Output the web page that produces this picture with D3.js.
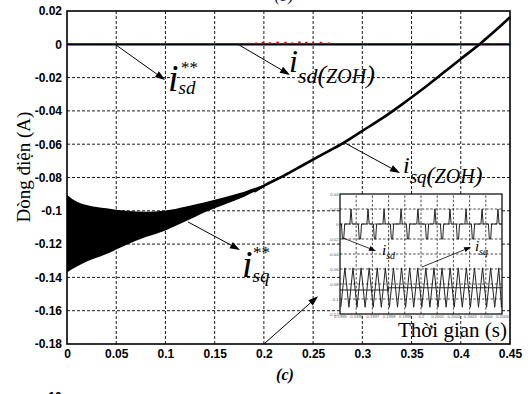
<!DOCTYPE html>
<html>
<head>
<meta charset="utf-8">
<script src="https://cdn.jsdelivr.net/npm/d3@7"></script>
<style>
  body { margin: 0; background: #fff; }
  svg { display: block; }
</style>
</head>
<body>
<script>
// ---- main plot data ----
const xTicks = [0, 0.05, 0.1, 0.15, 0.2, 0.25, 0.3, 0.35, 0.4, 0.45];
const yTicks = [0.02, 0, -0.02, -0.04, -0.06, -0.08, -0.1, -0.12, -0.14, -0.16, -0.18];

// i_sd** reference : zero over the whole run
const isdRefT = [0, 0.45];
const isdRefV = [0, 0];

// i_sq : fast ripple envelope for t < 0.2
const bandT     = [0, 0.01, 0.02, 0.04, 0.06, 0.08, 0.1, 0.12, 0.14, 0.16, 0.18, 0.2];
const bandUpper = [-0.0905, -0.0945, -0.0965, -0.0985, -0.1, -0.1005, -0.0998, -0.0975, -0.0948, -0.0918, -0.0885, -0.0843];
const bandLower = [-0.137, -0.1335, -0.1305, -0.126, -0.1205, -0.1158, -0.1118, -0.1065, -0.1008, -0.0962, -0.0915, -0.0858];

// i_sq(ZOH) after the ripple has died out
const curveT = [0.19, 0.2, 0.22, 0.24, 0.26, 0.28, 0.3, 0.32, 0.34, 0.36, 0.38, 0.4, 0.42, 0.44, 0.45];
const curveV = [-0.0885, -0.085, -0.079, -0.0725, -0.066, -0.0595, -0.052, -0.0445, -0.0362, -0.0275, -0.0182, -0.0088, 0.0005, 0.0108, 0.0162];

// i_sd(ZOH) red blips just above zero
const redMarkT = [0.185, 0.192, 0.199, 0.206, 0.214, 0.222, 0.229, 0.236, 0.243, 0.25, 0.258, 0.266];
const redMarkV = [0.0006, 0.0008, 0.0012, 0.0009, 0.0013, 0.0012, 0.0008, 0.0014, 0.0012, 0.0009, 0.0012, 0.0008];

// ---- zoomed inset data ----
const insetXTicks = [0.1995, 0.1996, 0.1997, 0.1998, 0.1999, 0.2, 0.2001, 0.2002, 0.2003, 0.2004, 0.2005];
const insetYTicks = [0.04, 0.02, 0, -0.02, -0.04, -0.06, -0.08, -0.1, -0.12];
const isdUpT   = [0.199568, 0.199673, 0.199772, 0.199877, 0.199981, 0.200086, 0.200179, 0.200278, 0.200377, 0.200475];
const isdDownT = [0.199519, 0.199623, 0.199716, 0.199821, 0.19992, 0.200037, 0.20013, 0.200228, 0.200321, 0.200426];
const isdUpV = 0.02, isdDownV = -0.02;
const isqPeakT   = [0.19953, 0.19958, 0.19963, 0.19968, 0.19973, 0.19978, 0.19983, 0.19988, 0.19993, 0.19998,
                    0.20003, 0.20008, 0.20013, 0.20018, 0.20023, 0.20028, 0.20033, 0.20038, 0.20043, 0.20048];
const isqTroughT = [0.199505, 0.199555, 0.199605, 0.199655, 0.199705, 0.199755, 0.199805, 0.199855, 0.199905, 0.199955,
                    0.200005, 0.200055, 0.200105, 0.200155, 0.200205, 0.200255, 0.200305, 0.200355, 0.200405, 0.200455, 0.200497];
const isqPeakV = -0.0585, isqTroughV = -0.111;
const isqRefT = [0.1995, 0.1998, 0.1998, 0.2005];
const isqRefV = [-0.088, -0.088, -0.085, -0.085];

// annotation arrows, in data units [t0, v0, t1, v1]
const mainArrows = [
  [0.0488, 0, 0.0996, -0.0214],
  [0.1737, 0, 0.2265, -0.0184],
  [0.2824, -0.0593, 0.3383, -0.0773],
  [0.1229, -0.1067, 0.1757, -0.1235],
  [0.2, -0.18, 0.255, -0.1513]
];
const insetArrows = [
  [0.199519, -0.0187, 0.199722, -0.036],
  [0.200006, -0.0573, 0.200309, -0.0307]
];

const W = 530, H = 394;
const svg = d3.select("body").append("svg").attr("width", W).attr("height", H);

const x = d3.scaleLinear().domain([0, 0.45]).range([67, 510]);
const y = d3.scaleLinear().domain([-0.18, 0.02]).range([344, 11]);
const fmt = d => String(+d.toFixed(4));
const serif = "'Liberation Serif', 'Times New Roman', serif";
const sans = "'Liberation Sans', Arial, sans-serif";

// grid
const grid = svg.append("g").attr("stroke", "#000").attr("stroke-width", 0.9).attr("stroke-dasharray", "3,2");
grid.selectAll("line.gx").data(xTicks.slice(1, -1)).join("line")
  .attr("x1", d => x(d)).attr("x2", d => x(d)).attr("y1", y(-0.18)).attr("y2", y(0.02));
grid.selectAll("line.gy").data(yTicks.slice(1, -1)).join("line")
  .attr("y1", d => y(d)).attr("y2", d => y(d)).attr("x1", x(0)).attr("x2", x(0.45));

// tick labels via axes
const ya = svg.append("g").attr("transform", `translate(${x(0)},0)`)
  .call(d3.axisLeft(y).tickValues(yTicks).tickFormat(fmt).tickSize(0).tickPadding(5));
const xa = svg.append("g").attr("transform", `translate(0,${y(-0.18)})`)
  .call(d3.axisBottom(x).tickValues(xTicks).tickFormat(fmt).tickSize(0).tickPadding(5));
[ya, xa].forEach(a => {
  a.select(".domain").remove();
  a.selectAll("text").attr("font-family", sans).attr("font-weight", "bold").attr("font-size", 12).attr("fill", "#000");
});

// i_sd** (black) and i_sd(ZOH) (red) at zero
const line = d3.line().x(d => x(d[0])).y(d => y(d[1]));
svg.append("path").datum(isdRefT.map((t, i) => [t, isdRefV[i]]))
  .attr("d", line).attr("stroke", "#000").attr("stroke-width", 2.2).attr("fill", "none");
svg.append("path").datum(isdRefT.map((t, i) => [t, isdRefV[i]]))
  .attr("d", line).attr("transform", "translate(0,-0.8)")
  .attr("stroke", "#c00000").attr("stroke-width", 1).attr("fill", "none");
svg.append("g").selectAll("line").data(redMarkT.map((t, i) => [t, redMarkV[i]])).join("line")
  .attr("x1", d => x(d[0])).attr("x2", d => x(d[0]))
  .attr("y1", y(0) - 0.5).attr("y2", d => y(d[1]) - 0.5)
  .attr("stroke", "#e00000").attr("stroke-width", 2.5);

// i_sq ripple band
const band = bandT.map((t, i) => ({ t, hi: bandUpper[i], lo: bandLower[i] }));
svg.append("path").datum(band)
  .attr("d", d3.area().x(d => x(d.t)).y0(d => y(d.lo)).y1(d => y(d.hi)).curve(d3.curveMonotoneX))
  .attr("fill", "#000");
svg.append("path").datum(curveT.map((t, i) => [t, curveV[i]]))
  .attr("d", d3.line().x(d => x(d[0])).y(d => y(d[1])).curve(d3.curveMonotoneX))
  .attr("stroke", "#000").attr("stroke-width", 2.6).attr("fill", "none");

// arrows
function arrow(g, x0, y0, x1, y1, len, half, w) {
  const a = Math.atan2(y1 - y0, x1 - x0);
  const bx = x1 - len * Math.cos(a), by = y1 - len * Math.sin(a);
  g.append("line").attr("x1", x0).attr("y1", y0).attr("x2", bx).attr("y2", by)
    .attr("stroke", "#000").attr("stroke-width", w);
  const px = -Math.sin(a) * half, py = Math.cos(a) * half;
  g.append("path").attr("d", `M${x1},${y1}L${bx + px},${by + py}L${bx - px},${by - py}Z`).attr("fill", "#000");
}
const ann = svg.append("g");
mainArrows.forEach(d => arrow(ann, x(d[0]), y(d[1]), x(d[2]), y(d[3]), 10, 3.5, 1));

// labels: big italic i with subscript parts and optional superscript
function label(g, px, py, iSize, subs, subDy, sup) {
  const t = g.append("text").attr("x", px).attr("y", py)
    .attr("font-family", serif).attr("font-style", "italic").attr("fill", "#000");
  t.append("tspan").attr("font-size", iSize).text("i");
  subs.forEach((s, k) => {
    const ts = t.append("tspan").attr("font-size", s[1]).text(s[0]);
    if (k === 0) ts.attr("dy", subDy);
  });
  if (sup) {
    g.append("text").attr("x", px + sup[0]).attr("y", py + sup[1])
      .attr("font-family", serif).attr("font-size", sup[2]).attr("fill", "#000").text("**");
  }
}
label(ann, x(0.1026), y(-0.0281), 38, [["sd", 19]], 3, [13, -18, 17]);
label(ann, x(0.2255), y(-0.0166), 32, [["sd", 22], ["(", 26], ["ZOH", 20], [")", 26]], 11, null);
label(ann, x(0.3413), y(-0.0773), 24, [["sq", 19], ["(", 24], ["ZOH", 20], [")", 24]], 10, null);
label(ann, x(0.1778), y(-0.1398), 38, [["sq", 19]], 5, [11, -19, 17]);

// ---- inset ----
const ix = d3.scaleLinear().domain([0.1995, 0.2005]).range([340, 502]);
const iy = d3.scaleLinear().domain([-0.12, 0.04]).range([314, 194]);
const inset = svg.append("g");
inset.append("rect").attr("x", ix(0.1995)).attr("y", iy(0.04))
  .attr("width", ix(0.2005) - ix(0.1995)).attr("height", iy(-0.12) - iy(0.04)).attr("fill", "#fff");
const ig = inset.append("g").attr("stroke", "#000").attr("stroke-width", 0.7).attr("stroke-dasharray", "2.5,1.8");
ig.selectAll("line.x").data(insetXTicks.slice(1, -1)).join("line")
  .attr("x1", d => ix(d)).attr("x2", d => ix(d)).attr("y1", iy(-0.12)).attr("y2", iy(0.04));
ig.selectAll("line.y").data(insetYTicks.slice(1, -1)).join("line")
  .attr("y1", d => iy(d)).attr("y2", d => iy(d)).attr("x1", ix(0.1995)).attr("x2", ix(0.2005));

const iya = inset.append("g").attr("transform", `translate(${ix(0.1995)},0)`)
  .call(d3.axisLeft(iy).tickValues(insetYTicks).tickFormat(fmt).tickSize(0).tickPadding(1.5));
const ixa = inset.append("g").attr("transform", `translate(0,${iy(-0.12)})`)
  .call(d3.axisBottom(ix).tickValues(insetXTicks).tickFormat(fmt).tickSize(0).tickPadding(1.5));
[iya, ixa].forEach(a => {
  a.select(".domain").remove();
  a.selectAll("text").attr("font-family", sans).attr("font-size", 4.2).attr("fill", "#555");
});

// inset i_sd: spikes on a zero baseline
const upHalf = 0.000007, downHalf = 0.00001;
let isdPts = [[0.1995, 0], [0.2005, 0]];
isdUpT.forEach(t => isdPts.push([t - upHalf, 0], [t, isdUpV], [t + upHalf, 0]));
isdDownT.forEach(t => isdPts.push([t - downHalf, 0], [t - downHalf * 0.4, isdDownV], [t + downHalf * 0.4, isdDownV], [t + downHalf, 0]));
isdPts.sort((a, b) => a[0] - b[0]);
const iline = d3.line().x(d => ix(d[0])).y(d => iy(d[1]));
inset.append("path").datum(isdPts).attr("d", iline)
  .attr("stroke", "#222").attr("stroke-width", 1).attr("fill", "none");

// inset i_sq: triangle ripple and its reference
const isqPts = isqPeakT.map(t => [t, isqPeakV]).concat(isqTroughT.map(t => [t, isqTroughV]))
  .sort((a, b) => a[0] - b[0]);
inset.append("path").datum(isqPts).attr("d", iline)
  .attr("stroke", "#222").attr("stroke-width", 1).attr("fill", "none");
inset.append("path").datum(isqRefT.map((t, i) => [t, isqRefV[i]])).attr("d", iline)
  .attr("stroke", "#222").attr("stroke-width", 1).attr("fill", "none");

inset.append("rect").attr("x", ix(0.1995)).attr("y", iy(0.04))
  .attr("width", ix(0.2005) - ix(0.1995)).attr("height", iy(-0.12) - iy(0.04))
  .attr("fill", "none").attr("stroke", "#000").attr("stroke-width", 1.2);

insetArrows.forEach(d => arrow(inset, ix(d[0]), iy(d[1]), ix(d[2]), iy(d[3]), 7, 2.6, 0.8));
label(inset, ix(0.199759), iy(-0.0413), 15, [["sd", 10]], 4, null);
label(inset, ix(0.200333), iy(-0.036), 15, [["sq", 10]], 4, null);

// main frame
svg.append("rect").attr("x", x(0)).attr("y", y(0.02))
  .attr("width", x(0.45) - x(0)).attr("height", y(-0.18) - y(0.02))
  .attr("fill", "none").attr("stroke", "#000").attr("stroke-width", 1.6);

// texts
svg.append("text").attr("transform", "translate(23,167) rotate(-90)")
  .attr("text-anchor", "middle").attr("dominant-baseline", "central")
  .attr("font-family", serif).attr("font-size", 19).text("Dòng điện (A)");
svg.append("text").attr("x", 507).attr("y", 337).attr("text-anchor", "end")
  .attr("font-family", serif).attr("font-size", 21).text("Thời gian (s)");
svg.append("text").attr("x", 285).attr("y", 380).attr("text-anchor", "middle")
  .attr("font-family", serif).attr("font-style", "italic").attr("font-weight", "bold")
  .attr("font-size", 16).text("(c)");
svg.append("text").attr("x", 284).attr("y", 1).attr("text-anchor", "middle")
  .attr("font-family", serif).attr("font-style", "italic")
  .attr("font-size", 16).text("(b)");
svg.append("text").attr("x", 55).attr("y", 401).attr("text-anchor", "middle")
  .attr("font-family", sans).attr("font-weight", "bold")
  .attr("font-size", 12).text("10");
</script>
</body>
</html>
